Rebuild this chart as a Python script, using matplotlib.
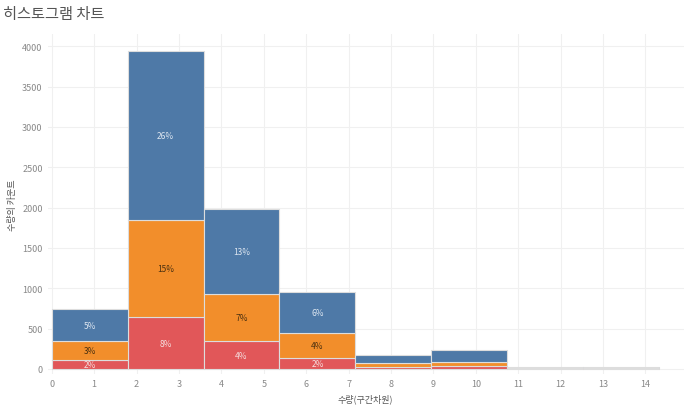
import matplotlib
matplotlib.use("Agg")
import matplotlib.pyplot as plt
import numpy as np

plt.rcParams["font.family"] = "Noto Sans CJK KR"

bin_width = 1.79
bins = np.arange(8) * bin_width
red = [110, 640, 340, 130, 25, 30, 6, 6]
orange = [230, 1210, 590, 320, 50, 60, 8, 8]
blue = [400, 2090, 1050, 500, 95, 140, 11, 11]
red_lbl = ["2%", "8%", "4%", "2%", "", "", "", ""]
orange_lbl = ["3%", "15%", "7%", "4%", "", "", "", ""]
blue_lbl = ["5%", "26%", "13%", "6%", "", "", "", ""]
xticks = list(range(15))
yticks = [0, 500, 1000, 1500, 2000, 2500, 3000, 3500, 4000]

fig = plt.figure(figsize=(6.99, 4.14), dpi=100)
ax = fig.add_axes([0.068, 0.095, 0.91, 0.82])
fig.text(0.005, 0.965, "히스토그램 차트", fontsize=11, color="#555555", va="center")

r = np.array(red); o = np.array(orange); b = np.array(blue)
kw = dict(width=bin_width, align="edge", edgecolor="#dddddd", linewidth=0.8)
ax.bar(bins, r, color="#e15759", **kw)
ax.bar(bins, o, bottom=r, color="#f28e2b", **kw)
ax.bar(bins, b, bottom=r + o, color="#4e79a7", **kw)
for i, x in enumerate(bins):
    cx = x + bin_width / 2
    if red_lbl[i]:
        ax.text(cx, r[i] / 2, red_lbl[i], ha="center", va="center", fontsize=6, color="#f5dede")
    if orange_lbl[i]:
        ax.text(cx, r[i] + o[i] / 2, orange_lbl[i], ha="center", va="center", fontsize=6, color="#4a3010")
    if blue_lbl[i]:
        ax.text(cx, r[i] + o[i] + b[i] / 2, blue_lbl[i], ha="center", va="center", fontsize=6, color="#dde6f0")

ax.set_xlim(-0.1, 14.9)
ax.set_ylim(-60, 4150)
ax.set_xticks(xticks)
ax.set_yticks(yticks)
ax.tick_params(length=0, labelsize=6.5, labelcolor="#888888")
ax.grid(True, color="#f0f0f0", linewidth=0.8)
ax.set_axisbelow(True)
for s in ax.spines.values():
    s.set_visible(False)
ax.set_xlabel("수량(구간차원)", fontsize=6.5, color="#555555")
ax.set_ylabel("수량의 카운트", fontsize=6.5, color="#555555")
fig.savefig("out.png", dpi=100)
